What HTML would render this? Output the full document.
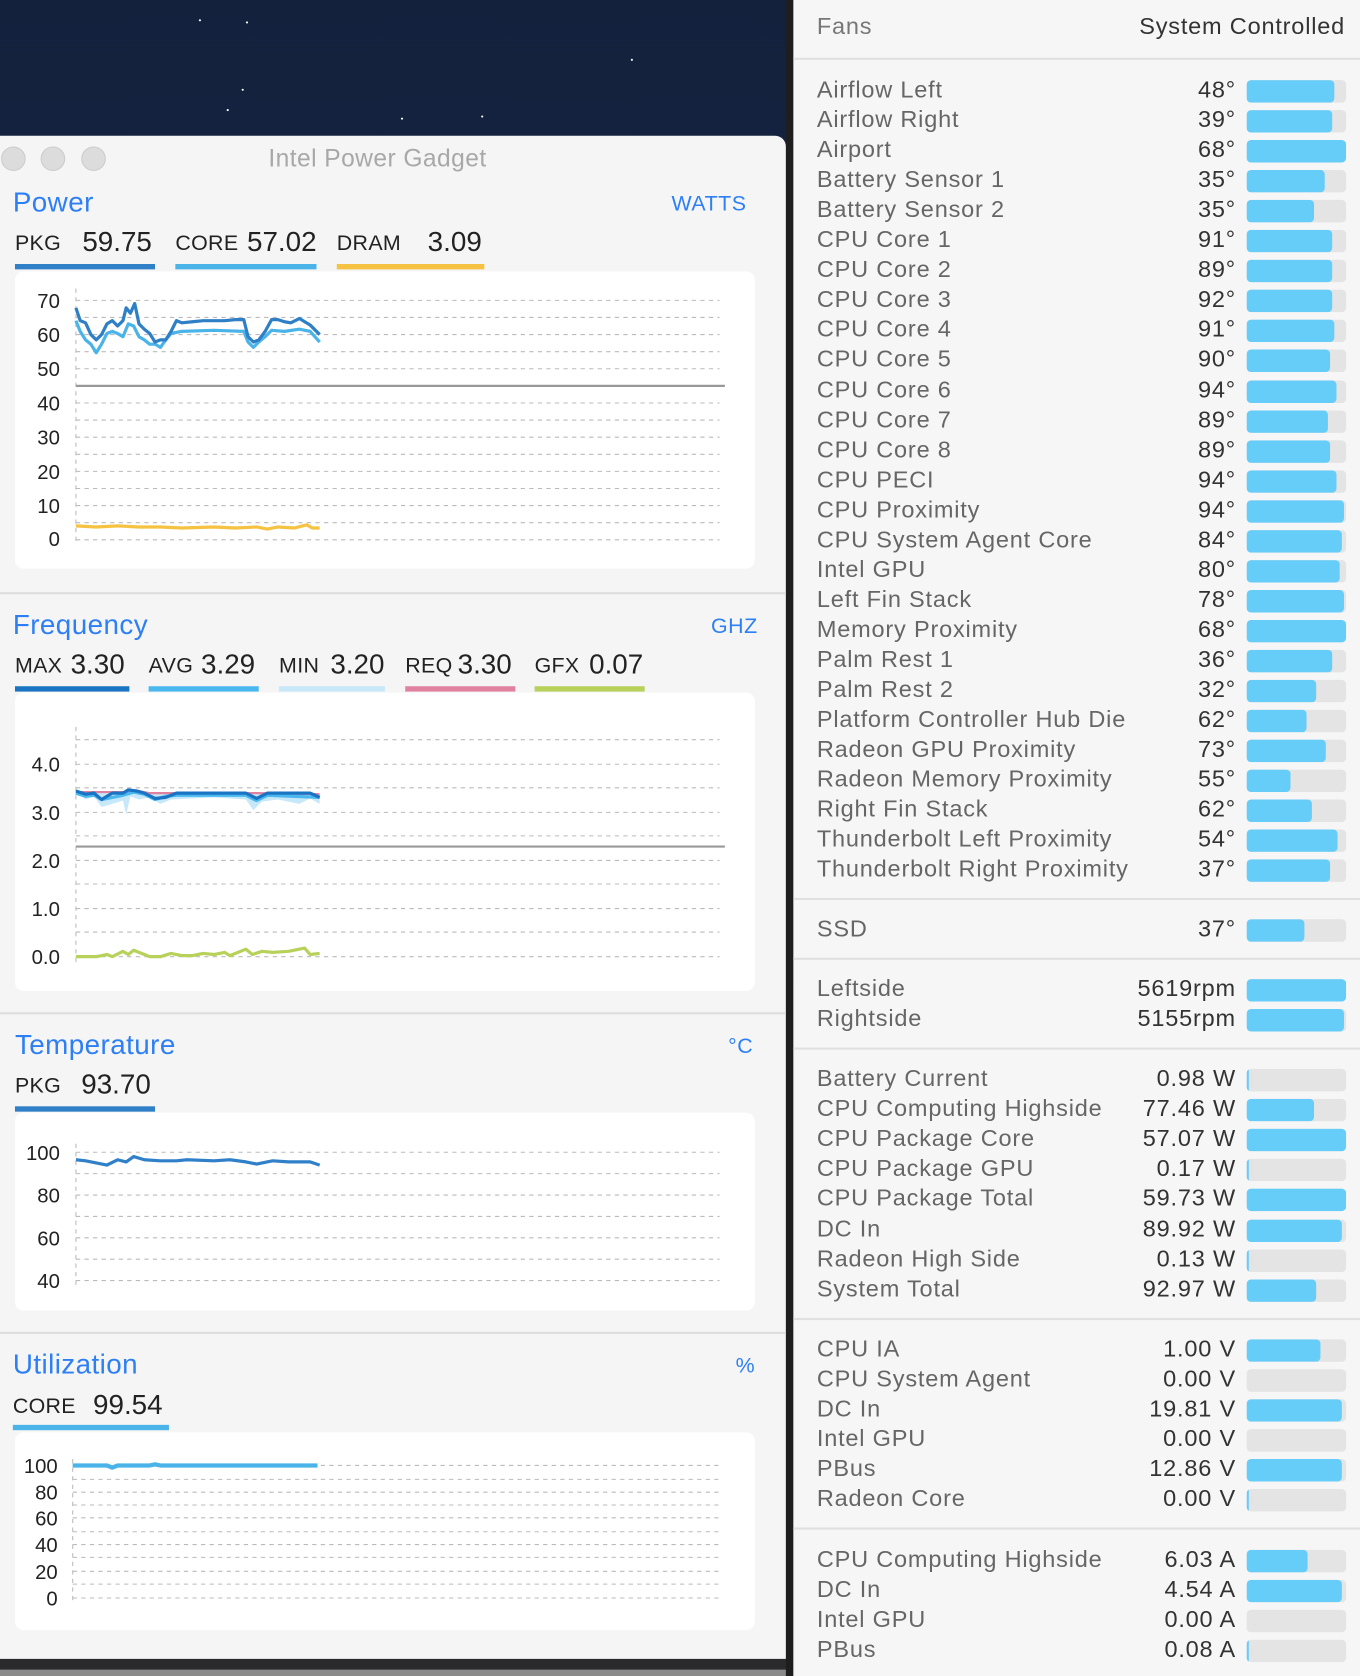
<!DOCTYPE html>
<html><head><meta charset="utf-8"><style>
*{margin:0;padding:0;box-sizing:border-box}
body{width:1360px;height:1676px;overflow:hidden;background:#1b2a4a;font-family:"Liberation Sans",sans-serif}
#w{position:absolute;left:0;top:0;width:1272px;height:1568px;transform:scale(1.06918,1.0689);transform-origin:0 0;background:linear-gradient(#14213d,#1d3058)}
.a{position:absolute;white-space:nowrap}
#win{position:absolute;left:0;top:127px;width:735px;height:1425px;background:#f5f5f5;border-top-right-radius:10px}
.dot{position:absolute;width:23px;height:23px;border-radius:50%;background:#dcdcdc;border:1px solid #ccc;top:137px}
.ttl{font-size:26px;color:#2d7ff5;letter-spacing:0.4px}
.unit{font-size:20px;color:#2d7ff5;letter-spacing:0.5px}
.lb{font-size:20px;color:#222;letter-spacing:0.3px}
.nv{font-size:26px;color:#222}
.bar{position:absolute;height:5px}
.pan{position:absolute;background:#fff;border-radius:8px}
.sep{position:absolute;left:0;width:735px;height:2px;background:#ddd}
#rp{position:absolute;left:742px;top:0;width:530px;height:1568px;background:#f6f6f6}
.row{position:absolute;left:22px;width:495px;height:28px;font-size:22px;letter-spacing:0.75px;color:#666}
.row .v{position:absolute;right:103px;top:0;color:#333}
.row .b{position:absolute;left:402px;top:4px;width:93px;height:21px;background:#e4e4e4;border-radius:4px;overflow:hidden}
.row .b i{position:absolute;left:0;top:0;bottom:0;background:#66ccf8;border-radius:4px}
.rs{position:absolute;left:0;width:530px;height:2px;background:#e0e0e0}
svg text{font-family:"Liberation Sans",sans-serif;font-size:19px;fill:#222}
.st{position:absolute;width:2px;height:2px;background:#fff;border-radius:50%}
</style></head><body><div id="w">
<div class="st" style="left:186px;top:18px"></div><div class="st" style="left:212px;top:102px"></div><div class="st" style="left:230px;top:20px"></div><div class="st" style="left:375px;top:110px"></div><div class="st" style="left:450px;top:108px"></div><div class="st" style="left:590px;top:55px"></div><div class="st" style="left:226px;top:83px"></div>
<div class="a" style="left:735px;top:0;width:7px;height:1568px;background:#1e1e1e"></div>
<div class="a" style="left:0;top:1552px;width:735px;height:16px;background:#2a2a2c"></div>
<div class="a" style="left:0;top:1562px;width:735px;height:6px;background:#8a8a8a"></div>
<div id="win"></div>
<div class="dot" style="left:1px"></div><div class="dot" style="left:38px"></div><div class="dot" style="left:76px"></div>
<div class="a" style="left:251px;top:135px;font-size:23px;color:#a8a8a8;letter-spacing:0.4px">Intel Power Gadget</div>

<div class="a ttl" style="left:12px;top:174px">Power</div>
<div class="a unit" style="left:628px;top:180px">WATTS</div>
<div class="a lb" style="left:14px;top:217px">PKG</div><div class="a nv" style="left:77px;top:211px">59.75</div>
<div class="a lb" style="left:164px;top:217px">CORE</div><div class="a nv" style="left:231px;top:211px">57.02</div>
<div class="a lb" style="left:315px;top:217px">DRAM</div><div class="a nv" style="left:400px;top:211px">3.09</div>
<div class="bar" style="left:14px;top:247px;width:131px;background:#2f80c8"></div>
<div class="bar" style="left:164px;top:247px;width:132px;background:#4ab4e8"></div>
<div class="bar" style="left:315px;top:247px;width:138px;background:#f5c242"></div>
<div class="pan" style="left:14px;top:254px;width:692px;height:278px"></div>
<div class="sep" style="top:554px"></div>

<div class="a ttl" style="left:12px;top:569px">Frequency</div>
<div class="a unit" style="left:665px;top:575px">GHZ</div>
<div class="a lb" style="left:14px;top:612px">MAX</div><div class="a nv" style="left:66px;top:606px">3.30</div>
<div class="a lb" style="left:139px;top:612px">AVG</div><div class="a nv" style="left:188px;top:606px">3.29</div>
<div class="a lb" style="left:261px;top:612px">MIN</div><div class="a nv" style="left:309px;top:606px">3.20</div>
<div class="a lb" style="left:379px;top:612px">REQ</div><div class="a nv" style="left:428px;top:606px">3.30</div>
<div class="a lb" style="left:500px;top:612px">GFX</div><div class="a nv" style="left:551px;top:606px">0.07</div>
<div class="bar" style="left:14px;top:642px;width:107px;background:#1a74c4"></div>
<div class="bar" style="left:139px;top:642px;width:103px;background:#4ab8ee"></div>
<div class="bar" style="left:261px;top:642px;width:99px;background:#c6e8f8"></div>
<div class="bar" style="left:379px;top:642px;width:103px;background:#e081a0"></div>
<div class="bar" style="left:500px;top:642px;width:103px;background:#b8d15a"></div>
<div class="pan" style="left:14px;top:648px;width:692px;height:279px"></div>
<div class="sep" style="top:947px"></div>

<div class="a ttl" style="left:14px;top:962px">Temperature</div>
<div class="a unit" style="left:681px;top:968px">°C</div>
<div class="a lb" style="left:14px;top:1005px">PKG</div><div class="a nv" style="left:76px;top:999px">93.70</div>
<div class="bar" style="left:14px;top:1035px;width:131px;background:#2f80c8"></div>
<div class="pan" style="left:14px;top:1041px;width:692px;height:185px"></div>
<div class="sep" style="top:1246px"></div>

<div class="a ttl" style="left:12px;top:1261px">Utilization</div>
<div class="a unit" style="left:688px;top:1267px">%</div>
<div class="a lb" style="left:12px;top:1305px">CORE</div><div class="a nv" style="left:87px;top:1299px">99.54</div>
<div class="bar" style="left:12px;top:1333px;width:146px;background:#4ab4e8"></div>
<div class="pan" style="left:14px;top:1340px;width:692px;height:185px"></div>

<svg class="a" style="left:0;top:0" width="735" height="1568">
<g stroke="#bbb" stroke-dasharray="4,4" stroke-width="1">
<line x1="71" y1="270" x2="71" y2="510"/>
<line x1="71" y1="281" x2="673" y2="281"/><line x1="71" y1="297" x2="673" y2="297"/><line x1="71" y1="313" x2="673" y2="313"/><line x1="71" y1="329" x2="673" y2="329"/><line x1="71" y1="345" x2="673" y2="345"/><line x1="71" y1="377" x2="673" y2="377"/><line x1="71" y1="393" x2="673" y2="393"/><line x1="71" y1="409" x2="673" y2="409"/><line x1="71" y1="425" x2="673" y2="425"/><line x1="71" y1="441" x2="673" y2="441"/><line x1="71" y1="457" x2="673" y2="457"/><line x1="71" y1="473" x2="673" y2="473"/><line x1="71" y1="489" x2="673" y2="489"/><line x1="71" y1="505" x2="673" y2="505"/>
<line x1="71" y1="680" x2="71" y2="900"/>
<line x1="71" y1="692" x2="673" y2="692"/><line x1="71" y1="715" x2="673" y2="715"/><line x1="71" y1="737" x2="673" y2="737"/><line x1="71" y1="760" x2="673" y2="760"/><line x1="71" y1="782" x2="673" y2="782"/><line x1="71" y1="805" x2="673" y2="805"/><line x1="71" y1="827" x2="673" y2="827"/><line x1="71" y1="850" x2="673" y2="850"/><line x1="71" y1="872" x2="673" y2="872"/><line x1="71" y1="895" x2="673" y2="895"/>
<line x1="71" y1="1070" x2="71" y2="1205"/>
<line x1="71" y1="1078" x2="673" y2="1078"/><line x1="71" y1="1098" x2="673" y2="1098"/><line x1="71" y1="1118" x2="673" y2="1118"/><line x1="71" y1="1138" x2="673" y2="1138"/><line x1="71" y1="1158" x2="673" y2="1158"/><line x1="71" y1="1178" x2="673" y2="1178"/><line x1="71" y1="1198" x2="673" y2="1198"/>
<line x1="68" y1="1365" x2="68" y2="1500"/>
<line x1="68" y1="1371" x2="673" y2="1371"/><line x1="68" y1="1384" x2="673" y2="1384"/><line x1="68" y1="1396" x2="673" y2="1396"/><line x1="68" y1="1408" x2="673" y2="1408"/><line x1="68" y1="1420" x2="673" y2="1420"/><line x1="68" y1="1433" x2="673" y2="1433"/><line x1="68" y1="1445" x2="673" y2="1445"/><line x1="68" y1="1457" x2="673" y2="1457"/><line x1="68" y1="1470" x2="673" y2="1470"/><line x1="68" y1="1482" x2="673" y2="1482"/><line x1="68" y1="1495" x2="673" y2="1495"/>
</g>
<line x1="71" y1="361" x2="678" y2="361" stroke="#999" stroke-width="2"/>
<line x1="71" y1="792" x2="678" y2="792" stroke="#999" stroke-width="2"/>
<g text-anchor="end">
<text x="56" y="288">70</text><text x="56" y="320">60</text><text x="56" y="352">50</text><text x="56" y="384">40</text><text x="56" y="416">30</text><text x="56" y="448">20</text><text x="56" y="480">10</text><text x="56" y="511">0</text>
<text x="56" y="722">4.0</text><text x="56" y="767">3.0</text><text x="56" y="812">2.0</text><text x="56" y="857">1.0</text><text x="56" y="902">0.0</text>
<text x="56" y="1085">100</text><text x="56" y="1125">80</text><text x="56" y="1165">60</text><text x="56" y="1205">40</text>
<text x="54" y="1378">100</text><text x="54" y="1403">80</text><text x="54" y="1427">60</text><text x="54" y="1452">40</text><text x="54" y="1477">20</text><text x="54" y="1502">0</text>
</g>
<g fill="none" stroke-width="3" stroke-linejoin="round">
<polyline stroke="#4ab4e8" points="71,300 75,310 80,318 85,322 90,330 95,322 100,312 105,310 110,312 115,315 120,303 125,305 130,315 135,318 140,322 145,322 150,325 155,318 160,312 170,310 200,309 228,310 232,320 237,325 242,320 248,315 254,309 266,310 280,308 290,310 299,320"/>
<polyline stroke="#2f7fc6" points="71,288 75,300 80,302 85,313 90,318 95,313 100,303 105,300 110,305 115,300 118,288 122,293 126,284 130,303 135,308 140,312 145,320 150,318 155,318 160,310 165,300 170,302 180,301 190,300 200,300 210,300 220,299 228,299 232,315 237,320 242,318 248,310 254,299 260,299 266,301 272,302 280,298 290,304 299,313"/>
<polyline stroke="#f5c242" points="71,492 90,493 110,492 130,493 150,493 170,494 200,493 220,494 240,493 250,495 260,493 275,494 287,491 292,494 299,494"/>
<polygon fill="#c6e8f8" stroke="none" points="71,740 80,748 88,745 95,755 105,752 115,749 118,762 122,745 130,748 140,746 150,752 160,748 200,746 230,748 237,758 245,750 260,748 280,752 290,747 299,752 299,744 71,740"/>
<polyline stroke="#e081a0" stroke-width="2" points="71,741 120,741 130,740 140,742 240,742 299,743"/>
<polyline stroke="#4ab8ee" points="71,742 80,745 88,744 95,748 105,746 115,744 125,741 135,743 145,748 155,745 165,744 230,744 240,749 250,744 299,746"/>
<polyline stroke="#1a74c4" points="71,740 80,743 88,742 95,748 105,742 115,742 120,739 128,740 135,742 145,747 155,746 165,742 230,742 240,747 250,742 290,742 299,746"/>
<polyline stroke="#b8d15a" points="71,895 90,895 100,893 105,895 115,890 120,893 125,889 135,893 140,895 150,895 160,892 170,894 180,894 190,892 200,893 210,891 215,894 225,890 230,888 236,893 245,890 255,891 270,890 285,887 290,893 299,892"/>
<polyline stroke="#2f80c8" points="71,1085 80,1086 90,1088 100,1090 110,1085 118,1087 125,1082 135,1085 150,1086 165,1086 175,1085 200,1086 215,1085 230,1087 240,1089 255,1086 270,1087 290,1087 299,1090"/>
<polyline stroke="#4ab4e8" stroke-width="4" points="68,1371 100,1371 105,1373 110,1371 140,1371 145,1370 150,1371 297,1371"/>
</g>
</svg>

<div id="rp">
<div class="a" style="left:22px;top:12px;font-size:22px;letter-spacing:0.75px;color:#777">Fans</div>
<div class="a" style="right:14px;top:12px;font-size:22px;letter-spacing:0.75px;color:#333">System Controlled</div>
<div class="rs" style="top:54px"></div>
<div class="rs" style="top:840px"></div>
<div class="rs" style="top:896px"></div>
<div class="rs" style="top:980px"></div>
<div class="rs" style="top:1233px"></div>
<div class="rs" style="top:1429px"></div>

<div class="row" style="top:71px">Airflow Left<span class="v">48°</span><div class="b"><i style="width:88%"></i></div></div>
<div class="row" style="top:99px">Airflow Right<span class="v">39°</span><div class="b"><i style="width:86%"></i></div></div>
<div class="row" style="top:127px">Airport<span class="v">68°</span><div class="b"><i style="width:100%"></i></div></div>
<div class="row" style="top:155px">Battery Sensor 1<span class="v">35°</span><div class="b"><i style="width:78%"></i></div></div>
<div class="row" style="top:183px">Battery Sensor 2<span class="v">35°</span><div class="b"><i style="width:68%"></i></div></div>
<div class="row" style="top:211px">CPU Core 1<span class="v">91°</span><div class="b"><i style="width:86%"></i></div></div>
<div class="row" style="top:239px">CPU Core 2<span class="v">89°</span><div class="b"><i style="width:86%"></i></div></div>
<div class="row" style="top:267px">CPU Core 3<span class="v">92°</span><div class="b"><i style="width:86%"></i></div></div>
<div class="row" style="top:295px">CPU Core 4<span class="v">91°</span><div class="b"><i style="width:88%"></i></div></div>
<div class="row" style="top:323px">CPU Core 5<span class="v">90°</span><div class="b"><i style="width:84%"></i></div></div>
<div class="row" style="top:352px">CPU Core 6<span class="v">94°</span><div class="b"><i style="width:90%"></i></div></div>
<div class="row" style="top:380px">CPU Core 7<span class="v">89°</span><div class="b"><i style="width:82%"></i></div></div>
<div class="row" style="top:408px">CPU Core 8<span class="v">89°</span><div class="b"><i style="width:84%"></i></div></div>
<div class="row" style="top:436px">CPU PECI<span class="v">94°</span><div class="b"><i style="width:90%"></i></div></div>
<div class="row" style="top:464px">CPU Proximity<span class="v">94°</span><div class="b"><i style="width:98%"></i></div></div>
<div class="row" style="top:492px">CPU System Agent Core<span class="v">84°</span><div class="b"><i style="width:96%"></i></div></div>
<div class="row" style="top:520px">Intel GPU<span class="v">80°</span><div class="b"><i style="width:94%"></i></div></div>
<div class="row" style="top:548px">Left Fin Stack<span class="v">78°</span><div class="b"><i style="width:98%"></i></div></div>
<div class="row" style="top:576px">Memory Proximity<span class="v">68°</span><div class="b"><i style="width:100%"></i></div></div>
<div class="row" style="top:604px">Palm Rest 1<span class="v">36°</span><div class="b"><i style="width:86%"></i></div></div>
<div class="row" style="top:632px">Palm Rest 2<span class="v">32°</span><div class="b"><i style="width:70%"></i></div></div>
<div class="row" style="top:660px">Platform Controller Hub Die<span class="v">62°</span><div class="b"><i style="width:60%"></i></div></div>
<div class="row" style="top:688px">Radeon GPU Proximity<span class="v">73°</span><div class="b"><i style="width:80%"></i></div></div>
<div class="row" style="top:716px">Radeon Memory Proximity<span class="v">55°</span><div class="b"><i style="width:44%"></i></div></div>
<div class="row" style="top:744px">Right Fin Stack<span class="v">62°</span><div class="b"><i style="width:66%"></i></div></div>
<div class="row" style="top:772px">Thunderbolt Left Proximity<span class="v">54°</span><div class="b"><i style="width:91%"></i></div></div>
<div class="row" style="top:800px">Thunderbolt Right Proximity<span class="v">37°</span><div class="b"><i style="width:84%"></i></div></div>

<div class="row" style="top:856px">SSD<span class="v">37°</span><div class="b"><i style="width:58%"></i></div></div>

<div class="row" style="top:912px">Leftside<span class="v">5619rpm</span><div class="b"><i style="width:100%"></i></div></div>
<div class="row" style="top:940px">Rightside<span class="v">5155rpm</span><div class="b"><i style="width:98%"></i></div></div>

<div class="row" style="top:996px">Battery Current<span class="v">0.98 W</span><div class="b"><i style="width:2%"></i></div></div>
<div class="row" style="top:1024px">CPU Computing Highside<span class="v">77.46 W</span><div class="b"><i style="width:68%"></i></div></div>
<div class="row" style="top:1052px">CPU Package Core<span class="v">57.07 W</span><div class="b"><i style="width:100%"></i></div></div>
<div class="row" style="top:1080px">CPU Package GPU<span class="v">0.17 W</span><div class="b"><i style="width:2%"></i></div></div>
<div class="row" style="top:1108px">CPU Package Total<span class="v">59.73 W</span><div class="b"><i style="width:100%"></i></div></div>
<div class="row" style="top:1137px">DC In<span class="v">89.92 W</span><div class="b"><i style="width:96%"></i></div></div>
<div class="row" style="top:1165px">Radeon High Side<span class="v">0.13 W</span><div class="b"><i style="width:2%"></i></div></div>
<div class="row" style="top:1193px">System Total<span class="v">92.97 W</span><div class="b"><i style="width:70%"></i></div></div>

<div class="row" style="top:1249px">CPU IA<span class="v">1.00 V</span><div class="b"><i style="width:74%"></i></div></div>
<div class="row" style="top:1277px">CPU System Agent<span class="v">0.00 V</span><div class="b"></div></div>
<div class="row" style="top:1305px">DC In<span class="v">19.81 V</span><div class="b"><i style="width:96%"></i></div></div>
<div class="row" style="top:1333px">Intel GPU<span class="v">0.00 V</span><div class="b"></div></div>
<div class="row" style="top:1361px">PBus<span class="v">12.86 V</span><div class="b"><i style="width:96%"></i></div></div>
<div class="row" style="top:1389px">Radeon Core<span class="v">0.00 V</span><div class="b"><i style="width:2%"></i></div></div>

<div class="row" style="top:1446px">CPU Computing Highside<span class="v">6.03 A</span><div class="b"><i style="width:61%"></i></div></div>
<div class="row" style="top:1474px">DC In<span class="v">4.54 A</span><div class="b"><i style="width:96%"></i></div></div>
<div class="row" style="top:1502px">Intel GPU<span class="v">0.00 A</span><div class="b"></div></div>
<div class="row" style="top:1530px">PBus<span class="v">0.08 A</span><div class="b"><i style="width:2%"></i></div></div>
</div>
</div></body></html>
